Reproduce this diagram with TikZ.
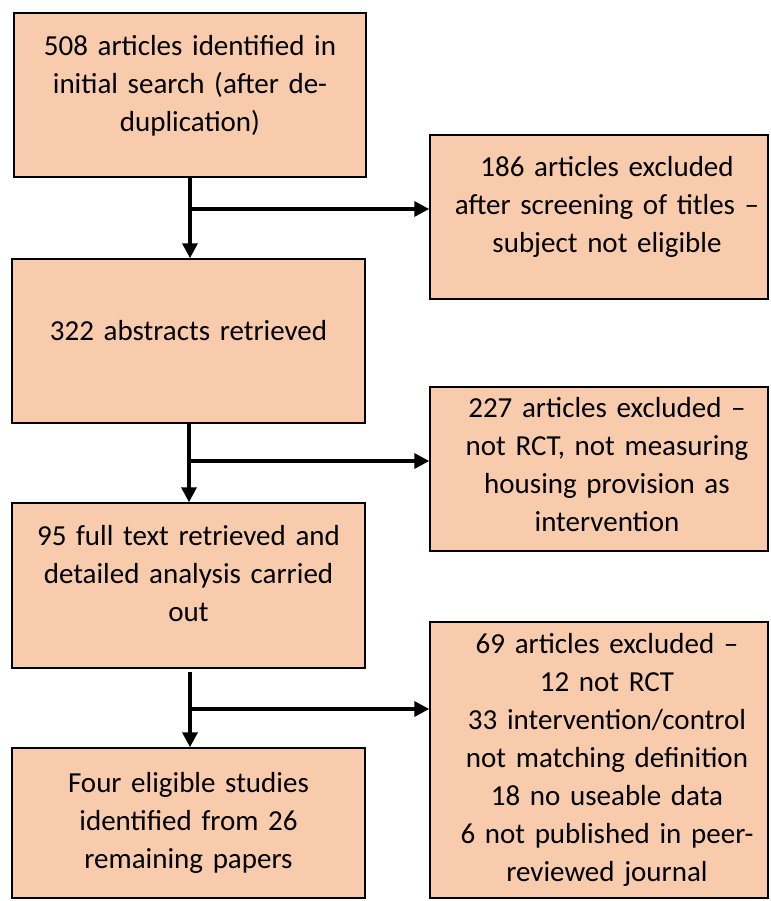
\documentclass[tikz,border=0pt]{standalone}
\usepackage{fontspec}
\setmainfont{Carlito}
\usetikzlibrary{arrows.meta}
\definecolor{peach}{HTML}{F8CBAD}
\begin{document}
\begin{tikzpicture}[x=1pt,y=-1pt,
  box/.style={draw=black, fill=peach, line width=2.5pt, rectangle, inner sep=0pt},
  txt/.style={inner sep=0pt, align=center, text width=330pt, font=\fontsize{29}{38}\selectfont, anchor=base},
  conn/.style={line width=3.5pt, draw=black},
  arr/.style={conn, -{Triangle[length=15pt,width=15pt]}, shorten >=-0.5pt}
]
\useasboundingbox (0,0) rectangle (770,901);
% boxes
\node[box, minimum width=352pt, minimum height=164pt] (b1) at (190,95) {};
\node[box, minimum width=338pt, minimum height=164pt] (b2) at (599,217) {};
\node[box, minimum width=353pt, minimum height=164pt] (b3) at (188.5,341) {};
\node[box, minimum width=338pt, minimum height=164pt] (b4) at (599,469) {};
\node[box, minimum width=353pt, minimum height=165pt] (b5) at (188.5,585.5) {};
\node[box, minimum width=338pt, minimum height=276pt] (b6) at (599,760) {};
\node[box, minimum width=353pt, minimum height=150pt] (b7) at (188.5,823) {};
% texts
\node[txt] (t1) at (190,56) {508 articles identified in\\initial search (after de-\\duplication)};
\node[txt] (t2) at (607,177) {186 articles excluded\\after screening of titles –\\subject not eligible};
\node[txt] (t3) at (188.5,340) {322 abstracts retrieved};
\node[txt] (t4) at (607,417) {227 articles excluded –\\not RCT, not measuring\\housing provision as\\intervention};
\node[txt] (t5) at (188.5,545) {95 full text retrieved and\\detailed analysis carried\\out};
\node[txt] (t6) at (607,653) {69 articles excluded –\\12 not RCT\\33 intervention/control\\not matching definition\\18 no useable data\\6 not published in peer-\\reviewed journal};
\node[txt] (t7) at (188.5,792) {Four eligible studies\\identified from 26\\remaining papers};
% connectors
\coordinate (j1) at (190,209);
\coordinate (j2) at (189,461);
\coordinate (s3) at (190,672);
\coordinate (j3) at (190,709);
\draw[arr] (b1.south -| j1) -- (b3.north -| j1);
\draw[arr] ([xshift=1.5pt]j1) -- (b2.west |- j1);
\draw[arr] (b3.south -| j2) -- (b5.north -| j2);
\draw[arr] ([xshift=1.5pt]j2) -- (b4.west |- j2);
\draw[arr] (s3) -- (b7.north -| s3);
\draw[arr] ([xshift=1.5pt]j3) -- (b6.west |- j3);
\end{tikzpicture}
\end{document}
